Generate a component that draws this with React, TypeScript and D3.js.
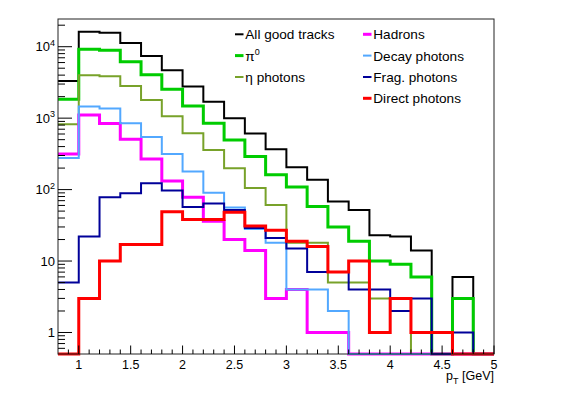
import React from "react";
import * as d3 from "d3";

// ---- data (bin low edges, 0.2 GeV wide bins) ----
const binLowEdges = [0.8, 1.0, 1.2, 1.4, 1.6, 1.8, 2.0, 2.2, 2.4, 2.6, 2.8, 3.0, 3.2, 3.4, 3.6, 3.8, 4.0, 4.2, 4.4, 4.6, 4.8];
const binUpperEdge = 5.0;

const allGoodTracks = [3300, 16200, 15700, 11300, 7400, 4700, 2780, 1690, 1000, 610, 367, 205, 137, 68, 52, 23, 22, 14, 0, 6, 0];
const pi0 = [1840, 9200, 8900, 6170, 4060, 2540, 1480, 850, 495, 290, 161, 109, 58, 30, 19, 10, 9, 6, 0, 3, 0];
const etaPhotons = [822, 3990, 3860, 2820, 1800, 1063, 615, 359, 199, 105, 61, 18, 18, 5, 5, 3, 3, 0, 0, 0, 0];
const hadrons = [316, 1110, 840, 507, 269, 132, 78, 36, 20, 14, 3, 4, 1, 1, 0, 0, 0, 0, 0, 0, 0];
const decayPhotons = [277, 1450, 1360, 849, 545, 316, 179, 90, 56, 28, 18, 4, 4, 2, 0, 0, 0, 0, 0, 0, 0];
const fragPhotons = [5, 22, 78, 89, 123, 97, 57, 64, 52, 29, 21, 15, 7, 7, 4, 4, 2, 3, 0, 1, 0];
const directPhotons = [0, 3, 10, 17, 17, 49, 38, 38, 48, 31, 27, 19, 16, 7, 10, 1, 3, 1, 1, 0, 0];

const seriesLabels = ["All good tracks", "π^0", "η photons", "Hadrons", "Decay photons", "Frag. photons", "Direct photons"];
const seriesValues = [allGoodTracks, pi0, etaPhotons, hadrons, decayPhotons, fragPhotons, directPhotons];

const xTickLabels = ["1", "1.5", "2", "2.5", "3", "3.5", "4", "4.5", "5"];
const xTickValues = [1, 1.5, 2, 2.5, 3, 3.5, 4, 4.5, 5];
const yTickValues = [1, 10, 100, 1000, 10000];
const yTickBase = ["1", "10", "10", "10", "10"];
const yTickExp = ["", "", "2", "3", "4"];
const xTitleMain = "p";
const xTitleSub = "T";
const xTitleUnit = " [GeV]";

// ---- styles ----
const seriesColors = ["#000000", "#00cc00", "#78a22a", "#ff00ff", "#52a8ff", "#000099", "#ff0000"];
const seriesWidths = [2, 3, 2, 3, 2, 2, 3];
const drawOrder = [0, 1, 2, 3, 4, 5, 6];
const legendCol = [0, 0, 0, 1, 1, 1, 1];
const legendRow = [0, 1, 2, 0, 1, 2, 3];

const W = 581;
const H = 394;
const FL = 58, FR = 494, FT = 19, FB = 354;
const YMIN = 0.5, YMAX = 24420;
const FONT = "'Liberation Sans', Arial, Helvetica, sans-serif";

export default function App() {
  const x = d3.scaleLinear().domain([0.8, 5]).range([FL, FR]);
  const y = d3.scaleLog().domain([YMIN, YMAX]).range([FB, FT]);

  const line = d3
    .line<[number, number]>()
    .x((d) => x(d[0]))
    .y((d) => y(Math.max(d[1], YMIN)))
    .curve(d3.curveStepAfter);

  const pathFor = (vals: number[]) => {
    const pts: [number, number][] = binLowEdges.map((e, i) => [e, vals[i]]);
    pts.push([binUpperEdge, vals[vals.length - 1]]);
    return line(pts) || "";
  };

  const yMinor: number[] = [];
  for (let p = -1; p <= 4; p++) {
    for (let k = 2; k <= 9; k++) {
      const v = k * Math.pow(10, p);
      if (v > YMIN && v < YMAX) yMinor.push(v);
    }
  }
  const xMinor: number[] = [];
  for (let i = 9; i < 50; i++) {
    if (i % 5 !== 0) xMinor.push(i / 10);
  }

  const legX = [235, 363];
  const legRowY = [34.3, 55.6, 77, 98.3];

  return (
    <svg width={W} height={H} style={{ position: "absolute", left: 0, top: 0, background: "#fff" }} fontFamily={FONT}>
      <rect x={0} y={0} width={W} height={H} fill="#fff" />
      <g fill="none">
        {drawOrder.map((i) => (
          <path key={i} d={pathFor(seriesValues[i])} stroke={seriesColors[i]} strokeWidth={seriesWidths[i]} />
        ))}
      </g>
      <rect x={FL} y={FT} width={FR - FL} height={FB - FT} fill="none" stroke="#222" strokeWidth={1} />
      <g stroke="#000" strokeWidth={1}>
        {yTickValues.map((v) => (
          <line key={"ym" + v} x1={FL} x2={FL + 14} y1={y(v)} y2={y(v)} />
        ))}
        {yMinor.map((v) => (
          <line key={"yn" + v} x1={FL} x2={FL + 7} y1={y(v)} y2={y(v)} />
        ))}
        {xTickValues.map((v) => (
          <line key={"xm" + v} x1={x(v)} x2={x(v)} y1={FB} y2={FB - 8.5} />
        ))}
        {xMinor.map((v) => (
          <line key={"xn" + v} x1={x(v)} x2={x(v)} y1={FB} y2={FB - 4.5} />
        ))}
      </g>
      <g fontSize={13} fill="#000">
        {yTickValues.map((v, i) => (
          <text key={"yl" + v} x={FL - 3} y={y(v) + 4.6} textAnchor="end">
            {yTickBase[i]}
            {yTickExp[i] ? (
              <tspan fontSize={9} dy={-5.5}>
                {yTickExp[i]}
              </tspan>
            ) : null}
          </text>
        ))}
      </g>
      <g fontSize={12.5} fill="#000">
        {xTickValues.map((v, i) => (
          <text key={"xl" + v} x={x(v)} y={368.5} textAnchor="middle">
            {xTickLabels[i]}
          </text>
        ))}
      </g>
      <text x={FR} y={379.5} textAnchor="end" fontSize={12.5} fill="#000">
        {xTitleMain}
        <tspan fontSize={9} dy={4}>
          {xTitleSub}
        </tspan>
        <tspan dy={-4}>{xTitleUnit}</tspan>
      </text>
      <g fontSize={13.6} fill="#000">
        {seriesLabels.map((lab, i) => {
          const lx = legX[legendCol[i]];
          const ly = legRowY[legendRow[i]];
          const parts = lab.split("^");
          return (
            <g key={"lg" + i}>
              <line x1={lx} x2={lx + 8.5} y1={ly} y2={ly} stroke={seriesColors[i]} strokeWidth={seriesWidths[i]} />
              <text x={lx + 10.3} y={ly + 5}>
                {parts[0]}
                {parts.length > 1 ? (
                  <tspan fontSize={9} dy={-6}>
                    {parts[1]}
                  </tspan>
                ) : null}
              </text>
            </g>
          );
        })}
      </g>
    </svg>
  );
}
